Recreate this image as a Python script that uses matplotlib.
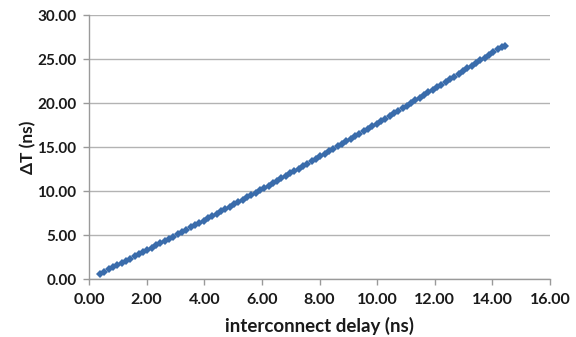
import matplotlib
matplotlib.use("Agg")
import matplotlib.pyplot as plt

# interconnect delay (ns) vs delta T (ns)
delay = [0.38, 0.53, 0.68, 0.83, 0.98, 1.13, 1.28, 1.43, 1.58, 1.73,
         1.88, 2.03, 2.18, 2.33, 2.48, 2.63, 2.78, 2.93, 3.08, 3.23,
         3.38, 3.53, 3.68, 3.83, 3.98, 4.13, 4.28, 4.43, 4.58, 4.73,
         4.88, 5.03, 5.18, 5.33, 5.48, 5.63, 5.78, 5.93, 6.08, 6.23,
         6.38, 6.53, 6.68, 6.83, 6.98, 7.13, 7.28, 7.43, 7.58, 7.73,
         7.88, 8.03, 8.18, 8.33, 8.48, 8.63, 8.78, 8.93, 9.08, 9.23,
         9.38, 9.53, 9.68, 9.83, 9.98, 10.13, 10.28, 10.43, 10.58, 10.73,
         10.88, 11.03, 11.18, 11.33, 11.48, 11.63, 11.78, 11.93, 12.08, 12.23,
         12.38, 12.53, 12.68, 12.83, 12.98, 13.13, 13.28, 13.43, 13.58, 13.73,
         13.88, 14.03, 14.18, 14.33, 14.44]
delta_t = [0.61, 0.85, 1.10, 1.34, 1.58, 1.83, 2.08, 2.32, 2.57, 2.82,
           3.07, 3.32, 3.57, 3.82, 4.07, 4.33, 4.58, 4.83, 5.09, 5.35,
           5.60, 5.86, 6.12, 6.38, 6.64, 6.90, 7.16, 7.42, 7.68, 7.95,
           8.21, 8.48, 8.74, 9.01, 9.28, 9.55, 9.82, 10.09, 10.36, 10.63,
           10.90, 11.17, 11.45, 11.72, 12.00, 12.27, 12.55, 12.83, 13.10, 13.38,
           13.66, 13.94, 14.23, 14.51, 14.79, 15.07, 15.36, 15.64, 15.93, 16.22,
           16.50, 16.79, 17.08, 17.37, 17.66, 17.95, 18.24, 18.54, 18.83, 19.13,
           19.42, 19.72, 20.01, 20.31, 20.61, 20.91, 21.21, 21.51, 21.81, 22.11,
           22.41, 22.72, 23.02, 23.33, 23.63, 23.94, 24.25, 24.55, 24.86, 25.17,
           25.48, 25.79, 26.11, 26.42, 26.55]

x_ticks = [0, 2, 4, 6, 8, 10, 12, 14, 16]
y_ticks = [0, 5, 10, 15, 20, 25, 30]

plt.rcParams['font.family'] = ['Lato', 'DejaVu Sans']

fig = plt.figure(figsize=(5.76, 3.37), dpi=100)
ax = fig.add_axes([0.1545, 0.172, 0.8005, 0.783])

ax.plot(delay, delta_t, linestyle='none', marker='D', markersize=3.6,
        color='#3a6cab', markeredgewidth=0)

ax.set_xlim(0, 16)
ax.set_ylim(0, 30)
ax.set_xticks(x_ticks)
ax.set_yticks(y_ticks)
ax.set_xticklabels([f"{v:.2f}" for v in x_ticks])
ax.set_yticklabels([f"{v:.2f}" for v in y_ticks])

ax.grid(axis='y', color='#b3b3b3', linewidth=1.0)
ax.set_axisbelow(True)
for s in ['top', 'right']:
    ax.spines[s].set_visible(False)
for s in ['left', 'bottom']:
    ax.spines[s].set_color('#9a9a9a')
    ax.spines[s].set_linewidth(1.0)
ax.tick_params(axis='both', colors='#9a9a9a', length=4, width=1,
               labelcolor='#1a1a1a', labelsize=11.5)
ax.tick_params(axis='x', pad=6)
ax.tick_params(axis='y', pad=5, labelsize=11)
for lab in ax.get_xticklabels() + ax.get_yticklabels():
    lab.set_fontweight('bold')

ax.set_xlabel('interconnect delay (ns)', fontsize=13.5, fontweight='bold',
              color='#1a1a1a', labelpad=7)
ax.set_ylabel('ΔT (ns)', fontsize=12.5, fontweight='bold',
              color='#1a1a1a', labelpad=1)

fig.savefig('out.png', dpi=100)
